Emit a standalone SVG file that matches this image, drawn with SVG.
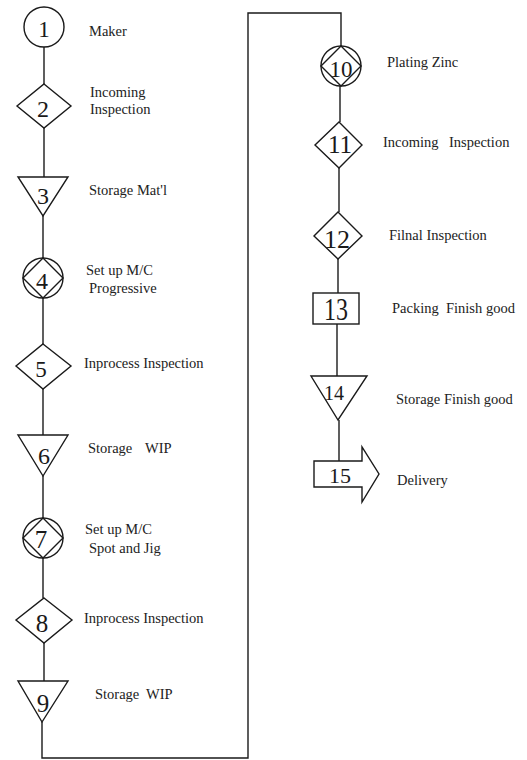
<svg xmlns="http://www.w3.org/2000/svg" width="527" height="760" viewBox="0 0 527 760">
<style>
.s{fill:#fff;stroke:#1a1a1a;stroke-width:1.4}
.c{fill:none;stroke:#1a1a1a;stroke-width:1.4}
.n{font-family:"Liberation Serif","Times New Roman",serif;fill:#1a1a1a;text-anchor:middle}
.l{font-family:"Liberation Serif","Times New Roman",serif;font-size:14.5px;fill:#222}
</style>
<rect width="527" height="760" fill="#fff"/>
<g id="connectors">
<path class="c" d="M44 47V84"/>
<path class="c" d="M44 128V177"/>
<path class="c" d="M43 216V258"/>
<path class="c" d="M43 298V344"/>
<path class="c" d="M43 389V435"/>
<path class="c" d="M43 476V518"/>
<path class="c" d="M43 558V598"/>
<path class="c" d="M44 643V681"/>
<path class="c" d="M42 722V758H248V13H341V46"/>
<path class="c" d="M340 86V122"/>
<path class="c" d="M339 168V212"/>
<path class="c" d="M338 259V293"/>
<path class="c" d="M337 324V376"/>
<path class="c" d="M339 420V461"/>
</g>
<g id="n1">
<circle class="s" cx="44" cy="27" r="20"/>
<text class="n" x="44" y="37" font-size="23">1</text>
<text class="l" x="89" y="36">Maker</text>
</g>
<g id="n2">
<polygon class="s" points="44,84 71,106 44,128 17,106"/>
<text class="n" x="43" y="117" font-size="24">2</text>
<text class="l" x="90" y="97">Incoming</text>
<text class="l" x="90" y="114">Inspection</text>
</g>
<g id="n3">
<polygon class="s" points="18,177 68,177 43,216"/>
<text class="n" x="43" y="204" font-size="24">3</text>
<text class="l" x="89" y="195">Storage Mat'l</text>
</g>
<g id="n4">
<circle class="s" cx="43" cy="278" r="20"/>
<polygon class="c" points="43,258 63,278 43,298 23,278"/>
<text class="n" x="42" y="289" font-size="24">4</text>
<text class="l" x="86" y="275">Set up M/C</text>
<text class="l" x="89" y="293">Progressive</text>
</g>
<g id="n5">
<polygon class="s" points="43,344 71,366 43,389 16,366"/>
<text class="n" x="41" y="377" font-size="23">5</text>
<text class="l" x="84" y="368">Inprocess Inspection</text>
</g>
<g id="n6">
<polygon class="s" points="18,435 68,435 43,476"/>
<text class="n" x="44" y="464" font-size="24">6</text>
<text class="l" x="88" y="453">Storage<tspan x="145">WIP</tspan></text>
</g>
<g id="n7">
<circle class="s" cx="43" cy="538" r="20"/>
<polygon class="c" points="43,518 63,538 43,558 23,538"/>
<text class="n" x="41" y="548" font-size="25">7</text>
<text class="l" x="85" y="534">Set up M/C</text>
<text class="l" x="89" y="553">Spot and Jig</text>
</g>
<g id="n8">
<polygon class="s" points="44,598 72,620 44,643 16,620"/>
<text class="n" x="42" y="632" font-size="25">8</text>
<text class="l" x="84" y="623">Inprocess Inspection</text>
</g>
<g id="n9">
<polygon class="s" points="18,681 68,681 42,722"/>
<text class="n" x="43" y="712" font-size="25">9</text>
<text class="l" x="95" y="699">Storage<tspan x="146">WIP</tspan></text>
</g>
<g id="n10">
<circle class="s" cx="341" cy="66" r="20"/>
<polygon class="c" points="341,46 361,66 341,86 321,66"/>
<text class="n" x="341" y="77" font-size="23">10</text>
<text class="l" x="387" y="67">Plating Zinc</text>
</g>
<g id="n11">
<polygon class="s" points="339,122 362,145 339,168 315,145"/>
<text class="n" x="340" y="153" font-size="25">11</text>
<text class="l" x="383" y="147">Incoming<tspan x="449">Inspection</tspan></text>
</g>
<g id="n12">
<polygon class="s" points="338,212 362,236 338,259 314,236"/>
<text class="n" x="337" y="248" font-size="26">12</text>
<text class="l" x="389" y="240">Filnal Inspection</text>
</g>
<g id="n13">
<rect class="s" x="313" y="293" width="46" height="31"/>
<text class="n" transform="translate(336 320) scale(1 1.3)" font-size="24">13</text>
<text class="l" x="392" y="313">Packing<tspan x="446">Finish good</tspan></text>
</g>
<g id="n14">
<polygon class="s" points="311,376 367,376 338,420"/>
<text class="n" x="334" y="400" font-size="20">14</text>
<text class="l" x="396" y="404">Storage Finish good</text>
</g>
<g id="n15">
<polygon class="s" points="314,461 362,461 362,447 379,474 362,502 362,487 314,487"/>
<text class="n" x="340" y="483" font-size="22">15</text>
<text class="l" x="397" y="485">Delivery</text>
</g>
</svg>
